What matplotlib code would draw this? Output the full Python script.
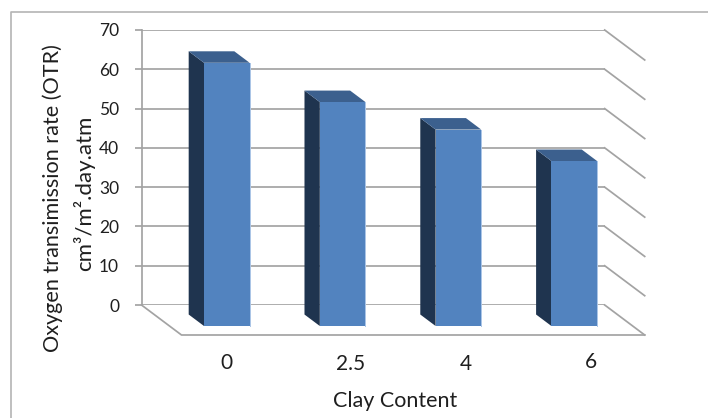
import matplotlib
matplotlib.use("Agg")
import matplotlib.pyplot as plt
from matplotlib.lines import Line2D
from matplotlib.patches import Polygon

# Chart data
categories = ["0", "2.5", "4", "6"]
otr_values = [67, 57, 50, 42]
y_ticks = [0, 10, 20, 30, 40, 50, 60, 70]

WIDTH, HEIGHT = 708, 418
plt.rcParams["font.family"] = ["Lato", "DejaVu Sans"]

fig = plt.figure(figsize=(WIDTH / 100, HEIGHT / 100), dpi=100, facecolor="white")


def px_rect(left, top, right, bottom):
    return [left / WIDTH, 1 - bottom / HEIGHT, (right - left) / WIDTH, (bottom - top) / HEIGHT]


def fig_xy(x, y):
    return x / WIDTH, 1 - y / HEIGHT


# The axes rectangle is the back wall of the oblique 3D box
ax = fig.add_axes(px_rect(141.5, 30, 604.7, 305))
x_left, x_right = -0.495, 3.505
ax.set_xlim(x_left, x_right)
ax.set_ylim(0, 70)
ax.patch.set_alpha(0)

# Shift per unit of depth: 0 is the back wall, 1 the front of the floor
DEPTH_X = 40 / 115.8
DEPTH_Y = -30 / (275 / 70)


def project(cat, value, depth):
    return cat + DEPTH_X * depth, value + DEPTH_Y * depth


GRID = "#A3A3A3"
LW = 1.25
TEXT = "#1F1F1F"

for name in ("top", "right", "bottom"):
    ax.spines[name].set_visible(False)
ax.spines["left"].set_color(GRID)
ax.spines["left"].set_linewidth(LW)

ax.set_xticks([])
ax.set_yticks(y_ticks)
ax.set_yticklabels([str(v) for v in y_ticks], fontsize=12.5, color=TEXT)
ax.tick_params(axis="y", length=4.7, width=LW, color=GRID, pad=11.5)
ax.grid(axis="y", color=GRID, linewidth=LW, zorder=0)
ax.set_axisbelow(True)

# Side wall grid lines and floor outline
for v in y_ticks:
    x1, y1 = project(x_right, v, 0)
    x2, y2 = project(x_right, v, 1)
    ax.plot([x1, x2], [y1, y2], color=GRID, lw=LW, clip_on=False, zorder=1)
fl_x, fl_y = project(x_left, 0, 1)
fr_x, fr_y = project(x_right, 0, 1)
ax.plot([x_left, fl_x, fr_x], [0, fl_y, fr_y], color=GRID, lw=LW, clip_on=False, zorder=1)

# Bars: front face plus shaded left side and top
BAR_WIDTH = 0.394
FRONT_D, BACK_D = 0.70, 0.317
FRONT, SIDE, TOP = "#5283BF", "#1F344F", "#3C608E"

for i, v in enumerate(otr_values):
    left = i - BAR_WIDTH / 2
    right = i + BAR_WIDTH / 2
    side = [project(left, 0, FRONT_D), project(left, 0, BACK_D),
            project(left, v, BACK_D), project(left, v, FRONT_D)]
    top = [project(left, v, FRONT_D), project(left, v, BACK_D),
           project(right, v, BACK_D), project(right, v, FRONT_D)]
    ax.add_patch(Polygon(side, closed=True, fc=SIDE, ec="none", clip_on=False, zorder=3))
    ax.add_patch(Polygon(top, closed=True, fc=TOP, ec="none", clip_on=False, zorder=3))
    fx, base = project(i, 0, FRONT_D)
    ax.bar(fx, v, width=BAR_WIDTH, bottom=base, color=FRONT, linewidth=0,
           clip_on=False, zorder=4)
    # Thin highlight along the right edge of the front face
    ax.plot([fx + BAR_WIDTH / 2] * 2, [base, base + v], color="#A9C4E6", lw=0.7,
            clip_on=False, zorder=4)

# Category labels sit unevenly under the floor
label_xy = [(226, 363), (351, 364), (466, 364), (591, 362)]
for text, (x, y) in zip(categories, label_xy):
    fx, fy = fig_xy(x, y)
    fig.text(fx, fy, text, fontsize=15, color=TEXT, ha="center", va="center")

fx, fy = fig_xy(395, 401)
fig.text(fx, fy, "Clay Content", fontsize=15.5, color=TEXT, ha="center", va="center")

fx, fy = fig_xy(53, 198)
fig.text(fx, fy, "Oxygen transimission rate (OTR)", fontsize=15.6, color=TEXT,
         rotation=90, ha="center", va="center")
fx, fy = fig_xy(84, 193)
fig.text(fx, fy, "cm³/m².day.atm", fontsize=16, color=TEXT,
         rotation=90, ha="center", va="center")

# Chart area border, open on the right and bottom
xs, ys = zip(fig_xy(11, HEIGHT), fig_xy(11, 12), fig_xy(WIDTH, 12))
fig.add_artist(Line2D(xs, ys, color="#B4B4B4", lw=1.2, transform=fig.transFigure))

fig.savefig("out.png", dpi=100)
